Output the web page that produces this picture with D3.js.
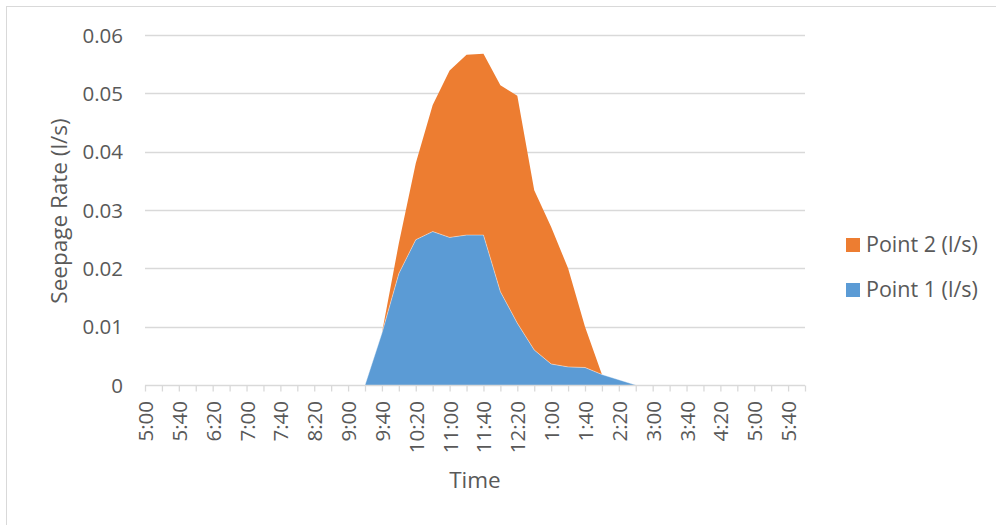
<!DOCTYPE html>
<html>
<head>
<meta charset="utf-8">
<script src="https://cdn.jsdelivr.net/npm/d3@7"></script>
<style>
  html, body { margin: 0; padding: 0; background: #fff; }
  svg { display: block; }
  text { font-family: "Open Sans", "Noto Sans", "Liberation Sans", sans-serif; fill: #595959; }
</style>
</head>
<body>
<svg id="chart" width="996" height="525"></svg>
<script>
// Time of each reading (20-minute steps)
const times = [
  "5:00","5:20","5:40","6:00","6:20","6:40","7:00","7:20","7:40","8:00",
  "8:20","8:40","9:00","9:20","9:40","10:00","10:20","10:40","11:00","11:20",
  "11:40","12:00","12:20","12:40","1:00","1:20","1:40","2:00","2:20","2:40",
  "3:00","3:20","3:40","4:00","4:20","4:40","5:00","5:20","5:40","6:00"
];

// Seepage at Point 1 (l/s)
const point1 = [
  0,0,0,0,0,0,0,0,0,0,
  0,0,0,0,0.0089,0.0191,0.0249,0.0263,0.0253,0.0257,
  0.0257,0.0160,0.0106,0.0060,0.0036,0.0031,0.0030,0.0018,0.0009,0,
  0,0,0,0,0,0,0,0,0,0
];

// Seepage at Point 2 (l/s)
const point2 = [
  0,0,0,0,0,0,0,0,0,0,
  0,0,0,0,0,0.0052,0.0131,0.0217,0.0286,0.0309,
  0.0311,0.0354,0.0390,0.0274,0.0235,0.0169,0.0070,0,0,0,
  0,0,0,0,0,0,0,0,0,0
];

const yTicks = [0, 0.01, 0.02, 0.03, 0.04, 0.05, 0.06];
const seriesNames = ["Point 1 (l/s)", "Point 2 (l/s)"];
const colors = { "Point 1 (l/s)": "#5B9BD5", "Point 2 (l/s)": "#ED7D31" };

const svg = d3.select("#chart");

// outer chart frame
svg.append("rect")
  .attr("x", 6.5).attr("y", 6.5).attr("width", 1200).attr("height", 800)
  .attr("fill", "none").attr("stroke", "#D9D9D9").attr("stroke-width", 1);

const x = d3.scalePoint().domain(d3.range(times.length)).range([145, 805]);
const y = d3.scaleLinear().domain([0, 0.06]).range([385, 35]);

// horizontal gridlines
svg.append("g").selectAll("line")
  .data(yTicks.filter(d => d > 0))
  .join("line")
  .attr("x1", 145).attr("x2", 805)
  .attr("y1", d => Math.round(y(d)) + 0.5).attr("y2", d => Math.round(y(d)) + 0.5)
  .attr("stroke", "#D9D9D9").attr("stroke-width", 1.3);

// stacked areas
const rows = times.map((t, i) => ({ i, "Point 1 (l/s)": point1[i], "Point 2 (l/s)": point2[i] }));
const stacked = d3.stack().keys(seriesNames)(rows);

const area = d3.area()
  .x(d => x(d.data.i))
  .y0(d => y(d[0]))
  .y1(d => y(d[1]));

svg.append("g").selectAll("path")
  .data(stacked)
  .join("path")
  .attr("d", area)
  .attr("fill", d => colors[d.key]);

// thin seam along the top of Point 1
svg.append("path")
  .datum(stacked[0])
  .attr("d", d3.line().x(d => x(d.data.i)).y(d => y(d[1])))
  .attr("fill", "none").attr("stroke", "#ffffff").attr("stroke-width", 0.6).attr("stroke-opacity", 0.7);

// x axis line and category ticks
const xAxis = d3.axisBottom(x).tickSize(6).tickFormat(() => "");
const gx = svg.append("g").attr("transform", "translate(0,385.5)").call(xAxis);
gx.select(".domain").attr("stroke", "#D9D9D9").attr("stroke-width", 1.3).attr("d", "M145,0H805");
gx.selectAll(".tick line").attr("stroke", "#D9D9D9").attr("stroke-width", 1.3);

// x tick labels, every second category, rotated
svg.append("g").selectAll("text")
  .data(d3.range(0, times.length, 2))
  .join("text")
  .attr("transform", i => `translate(${x(i) + 8},401) rotate(-90)`)
  .attr("text-anchor", "end")
  .attr("font-size", 20.5)
  .text(i => times[i]);

// y tick labels
svg.append("g").selectAll("text")
  .data(yTicks)
  .join("text")
  .attr("x", 123).attr("y", d => y(d) + 7.5)
  .attr("text-anchor", "end")
  .attr("font-size", 20.5)
  .text(d => d === 0 ? "0" : d.toFixed(2));

// axis titles
svg.append("text")
  .attr("transform", "translate(67,211) rotate(-90)")
  .attr("text-anchor", "middle")
  .attr("font-size", 22.5)
  .text("Seepage Rate (l/s)");

svg.append("text")
  .attr("x", 475).attr("y", 488)
  .attr("text-anchor", "middle")
  .attr("font-size", 22.5)
  .text("Time");

// legend
const legend = svg.append("g");
const legendItems = ["Point 2 (l/s)", "Point 1 (l/s)"];
legendItems.forEach((name, k) => {
  const cy = 245 + k * 45;
  legend.append("rect")
    .attr("x", 846).attr("y", cy - 7).attr("width", 14).attr("height", 14)
    .attr("fill", colors[name]);
  legend.append("text")
    .attr("x", 866).attr("y", cy + 7)
    .attr("font-size", 21.5)
    .text(name);
});
</script>
</body>
</html>
